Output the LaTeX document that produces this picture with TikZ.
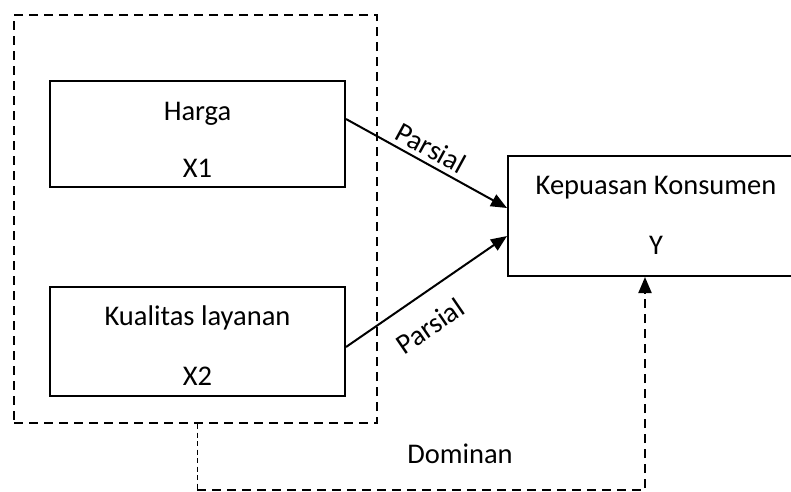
\documentclass[tikz,border=0pt]{standalone}
\usepackage{fontspec}
\setmainfont{Carlito}
\usetikzlibrary{arrows.meta}
\begin{document}
\begin{tikzpicture}[x=1pt,y=-1pt,
  every node/.style={font=\fontsize{28.5}{34}\selectfont, inner sep=0pt},
  varbox/.style={draw, line width=2pt, rectangle},
  grpbox/.style={draw, line width=2pt, dash pattern=on 9pt off 6pt, rectangle},
  lbl/.style={anchor=base},
  arr/.style={line width=2pt, -{Triangle[length=16pt,width=13pt]}},
  thindash/.style={line width=1pt, dash pattern=on 5pt off 3.5pt},
  thickdash/.style={line width=2pt, dash pattern=on 9pt off 6pt}
]
\useasboundingbox (0,0) rectangle (791,491);
% group box
\node[grpbox, minimum width=363pt, minimum height=408pt] (grp) at (195.5,219) {};
% variable boxes
\node[varbox, minimum width=295pt, minimum height=106pt] (harga) at (197.5,134) {};
\node[lbl] (hargaT) at (197.5,120) {Harga};
\node[lbl] (x1T) at (197.5,177) {X1};
\node[varbox, minimum width=295pt, minimum height=109pt] (kual) at (197.5,341.5) {};
\node[lbl] (kualT) at (197.5,325) {Kualitas layanan};
\node[lbl] (x2T) at (197.5,385) {X2};
\node[varbox, minimum width=296pt, minimum height=120pt] (kep) at (656,216) {};
\node[lbl] (kepT) at (656,194) {Kepuasan Konsumen};
\node[lbl] (yT) at (656,254) {Y};
% arrows
\draw[arr] ([yshift=15pt]harga.east) -- ([yshift=8pt]kep.west);
\draw[arr] ([yshift=-5.5pt]kual.east) -- ([yshift=-20pt]kep.west);
\node[rotate=-28.6] (p1) at (431,148) {Parsial};
\node[rotate=34.4] (p2) at (430,326) {Parsial};
% dominan
\draw[thindash] (grp.south) ++(1.5,0) -- ++(0,66) coordinate (c1);
\draw[thickdash, -{Triangle[length=16pt,width=13pt]}] (c1) -| ([xshift=-11pt]kep.south);
\node[lbl] (dom) at (460,463) {Dominan};
\end{tikzpicture}
\end{document}
